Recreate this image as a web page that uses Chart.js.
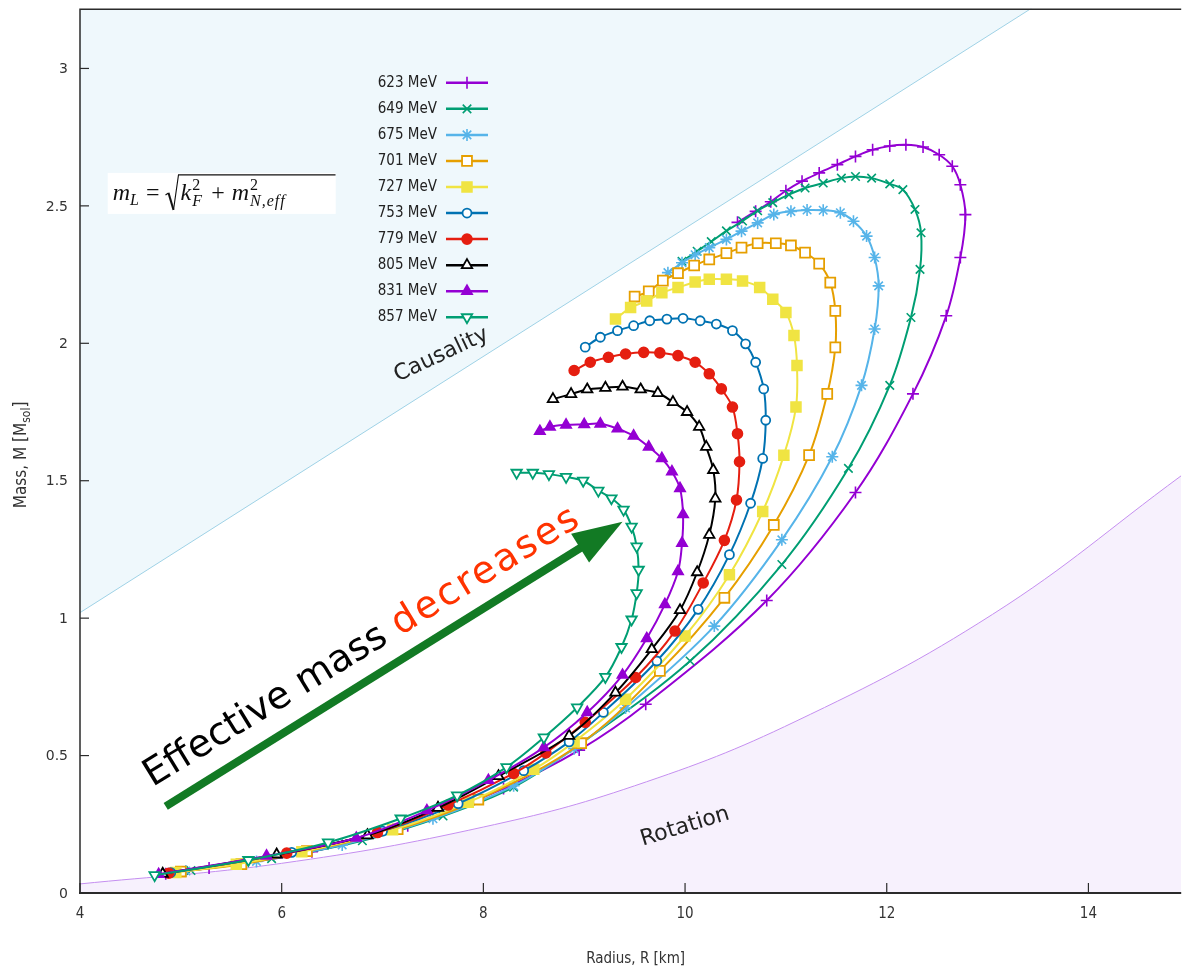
<!DOCTYPE html>
<html>
<head>
<meta charset="utf-8">
<script src="https://cdn.jsdelivr.net/npm/chart.js@4/dist/chart.umd.min.js"></script>
<style>
  html, body { margin: 0; padding: 0; background: #fff; overflow: hidden; }
  canvas { display: block; }
</style>
</head>
<body>
<canvas id="myChart" width="1190" height="970"></canvas>
<script>
const curveLabels = ['623 MeV', '649 MeV', '675 MeV', '701 MeV', '727 MeV',
                     '753 MeV', '779 MeV', '805 MeV', '831 MeV', '857 MeV'];

// radius [km] / mass [Msol], low mass -> high central density
const r623 = [4.85, 5.28, 6.3, 7.25, 8.2, 8.95, 9.61, 10.81, 11.69, 12.26, 12.59, 12.73, 12.78, 12.73, 12.65, 12.52, 12.36, 12.19, 12.03, 11.86, 11.69, 11.51, 11.33, 11.16, 11.0, 10.85, 10.7, 10.52];
const m623 = [0.07, 0.091, 0.15, 0.245, 0.38, 0.52, 0.687, 1.064, 1.457, 1.816, 2.10, 2.312, 2.468, 2.577, 2.644, 2.686, 2.714, 2.722, 2.718, 2.704, 2.68, 2.65, 2.62, 2.59, 2.555, 2.515, 2.48, 2.44];

const r649 = [5.1, 5.9, 6.8, 7.6, 8.3, 8.93, 10.05, 10.96, 11.62, 12.03, 12.24, 12.33, 12.34, 12.28, 12.16, 12.03, 11.85, 11.69, 11.55, 11.37, 11.19, 11.03, 10.87, 10.72, 10.57, 10.41, 10.26, 10.12, 9.97];
const m649 = [0.082, 0.125, 0.19, 0.28, 0.385, 0.535, 0.844, 1.195, 1.545, 1.847, 2.094, 2.269, 2.402, 2.487, 2.559, 2.58, 2.601, 2.607, 2.601, 2.583, 2.565, 2.541, 2.512, 2.482, 2.445, 2.409, 2.37, 2.335, 2.298];

const r675 = [5.05, 5.75, 6.6, 7.5, 8.3, 8.9, 9.41, 10.29, 10.96, 11.46, 11.75, 11.88, 11.92, 11.88, 11.80, 11.67, 11.54, 11.37, 11.21, 11.05, 10.88, 10.72, 10.56, 10.41, 10.24, 10.10, 9.97, 9.83];
const m675 = [0.08, 0.115, 0.175, 0.27, 0.39, 0.525, 0.673, 0.971, 1.285, 1.587, 1.847, 2.052, 2.209, 2.312, 2.390, 2.444, 2.475, 2.484, 2.485, 2.480, 2.469, 2.438, 2.408, 2.378, 2.348, 2.322, 2.293, 2.257];

const r701 = [5.0, 5.6, 6.25, 7.15, 7.95, 8.97, 9.75, 10.39, 10.88, 11.23, 11.41, 11.49, 11.49, 11.44, 11.33, 11.19, 11.05, 10.90, 10.72, 10.56, 10.41, 10.24, 10.09, 9.93, 9.78, 9.64, 9.50];
const m701 = [0.078, 0.105, 0.152, 0.232, 0.34, 0.545, 0.808, 1.074, 1.339, 1.593, 1.816, 1.985, 2.118, 2.221, 2.29, 2.33, 2.356, 2.364, 2.364, 2.348, 2.328, 2.305, 2.283, 2.255, 2.228, 2.189, 2.170];

const r727 = [4.95, 5.55, 6.2, 7.1, 7.85, 8.5, 8.9, 9.41, 10.0, 10.44, 10.77, 10.98, 11.10, 11.11, 11.08, 11.00, 10.87, 10.74, 10.57, 10.41, 10.24, 10.10, 9.93, 9.77, 9.62, 9.46, 9.31];
const m727 = [0.075, 0.105, 0.15, 0.23, 0.33, 0.45, 0.55, 0.705, 0.935, 1.158, 1.388, 1.593, 1.768, 1.919, 2.028, 2.112, 2.160, 2.203, 2.227, 2.233, 2.233, 2.223, 2.203, 2.184, 2.154, 2.130, 2.088];

const r753 = [4.9, 6.1, 7.0, 7.75, 8.4, 8.85, 9.19, 9.72, 10.13, 10.44, 10.65, 10.77, 10.80, 10.78, 10.70, 10.60, 10.47, 10.31, 10.15, 9.98, 9.82, 9.65, 9.49, 9.33, 9.16, 9.01];
const m753 = [0.074, 0.148, 0.225, 0.325, 0.445, 0.55, 0.657, 0.844, 1.032, 1.231, 1.418, 1.581, 1.720, 1.834, 1.931, 1.998, 2.046, 2.070, 2.082, 2.091, 2.088, 2.082, 2.064, 2.046, 2.022, 1.986];

const r779 = [4.88, 6.05, 6.95, 7.65, 8.3, 8.62, 9.01, 9.51, 9.90, 10.18, 10.39, 10.51, 10.54, 10.52, 10.47, 10.36, 10.24, 10.10, 9.93, 9.75, 9.59, 9.41, 9.24, 9.06, 8.90];
const m779 = [0.072, 0.145, 0.22, 0.32, 0.435, 0.51, 0.621, 0.784, 0.953, 1.128, 1.283, 1.430, 1.569, 1.671, 1.768, 1.834, 1.889, 1.931, 1.955, 1.965, 1.967, 1.961, 1.949, 1.931, 1.901];

const r805 = [4.82, 5.95, 6.85, 7.55, 8.15, 8.85, 9.31, 9.67, 9.95, 10.12, 10.24, 10.30, 10.28, 10.21, 10.14, 10.02, 9.88, 9.73, 9.56, 9.38, 9.21, 9.03, 8.87, 8.69];
const m805 = [0.07, 0.14, 0.21, 0.31, 0.425, 0.572, 0.729, 0.887, 1.029, 1.167, 1.303, 1.435, 1.539, 1.623, 1.696, 1.750, 1.786, 1.819, 1.832, 1.842, 1.838, 1.832, 1.815, 1.797];

const r831 = [4.78, 5.85, 6.74, 7.44, 8.05, 8.6, 9.03, 9.38, 9.62, 9.80, 9.93, 9.97, 9.98, 9.95, 9.87, 9.77, 9.64, 9.49, 9.33, 9.16, 9.00, 8.82, 8.66, 8.56];
const m831 = [0.068, 0.135, 0.2, 0.30, 0.41, 0.53, 0.657, 0.793, 0.926, 1.050, 1.170, 1.273, 1.377, 1.472, 1.533, 1.581, 1.623, 1.663, 1.689, 1.707, 1.705, 1.703, 1.696, 1.680];

const r857 = [4.74, 5.67, 6.46, 7.18, 7.74, 8.23, 8.60, 8.93, 9.21, 9.37, 9.47, 9.52, 9.54, 9.52, 9.47, 9.39, 9.27, 9.14, 8.99, 8.82, 8.65, 8.49, 8.33];
const m857 = [0.065, 0.12, 0.184, 0.271, 0.355, 0.458, 0.566, 0.675, 0.786, 0.895, 0.995, 1.091, 1.176, 1.261, 1.333, 1.395, 1.436, 1.464, 1.500, 1.514, 1.524, 1.529, 1.529];

// limits
const causalityR = [4.0, 13.44];
const causalityM = [1.02, 3.22];
const rotationR = [4.0, 6.0, 8.0, 9.5, 11.1, 13.05, 14.92];
const rotationM = [0.033, 0.108, 0.24, 0.39, 0.625, 1.014, 1.518];

const radiusTicks = [4, 6, 8, 10, 12, 14];
const massTicks = [0, 0.5, 1, 1.5, 2, 2.5, 3];
const massTickLabels = ['0', '0.5', '1', '1.5', '2', '2.5', '3'];

const curves = [[r623, m623], [r649, m649], [r675, m675], [r701, m701], [r727, m727],
                [r753, m753], [r779, m779], [r805, m805], [r831, m831], [r857, m857]];

const curveColors = ['#9400d3', '#009e73', '#56b4e9', '#e69f00', '#f0e442',
                     '#0072b2', '#e51e10', '#000000', '#9400d3', '#009e73'];

// gnuplot point types 1..10
const marks = [
  { style: 'cross', radius: 6 },
  { style: 'crossRot', radius: 6 },
  { style: 'star', radius: 6 },
  { style: 'rect', radius: 7, open: true },
  { style: 'rect', radius: 7 },
  { style: 'circle', radius: 4.5, open: true },
  { style: 'circle', radius: 5 },
  { style: 'triangle', radius: 6, open: true },
  { style: 'triangle', radius: 6 },
  { style: 'triangle', radius: 6, open: true, rot: 180 },
];

const toPoints = (rs, ms) => rs.map((r, i) => ({ x: r, y: ms[i] }));

const curveSets = curves.map(([rs, ms], i) => ({
  label: curveLabels[i],
  data: toPoints(rs, ms),
  borderColor: curveColors[i],
  borderWidth: 2,
  tension: 0.35,
  fill: false,
  pointStyle: marks[i].style,
  pointRadius: marks[i].radius,
  pointRotation: marks[i].rot || 0,
  pointBorderColor: curveColors[i],
  pointBackgroundColor: marks[i].open ? '#ffffff' : curveColors[i],
  pointBorderWidth: marks[i].open ? 1.8 : 1.6,
  order: 10 - i,
}));

const sans = '"DejaVu Sans", "Liberation Sans", sans-serif';
const narrow = '"DejaVu Sans Condensed", "Liberation Sans Narrow", "DejaVu Sans", sans-serif';
const serif = '"Liberation Serif", "DejaVu Serif", serif';

function rotatedText(c, parts, x, y, deg, font) {
  c.save();
  c.translate(x, y);
  c.rotate(-deg * Math.PI / 180);
  c.font = font;
  c.textAlign = 'left';
  c.textBaseline = 'alphabetic';
  let cx = 0;
  for (const [t, col, spacing] of parts) {
    c.fillStyle = col;
    c.letterSpacing = spacing || '0px';
    c.fillText(t, cx, 0);
    cx += c.measureText(t).width;
  }
  c.letterSpacing = '0px';
  c.restore();
}

function drawArrow(c, x1, y1, x2, y2, color) {
  const ang = Math.atan2(y2 - y1, x2 - x1);
  const headLen = 50, half = 17;
  const bx = x2 - headLen * Math.cos(ang), by = y2 - headLen * Math.sin(ang);
  c.strokeStyle = color;
  c.fillStyle = color;
  c.lineWidth = 8;
  c.beginPath();
  c.moveTo(x1, y1);
  c.lineTo(bx + 4 * Math.cos(ang), by + 4 * Math.sin(ang));
  c.stroke();
  c.beginPath();
  c.moveTo(x2, y2);
  c.lineTo(bx - half * Math.sin(ang), by + half * Math.cos(ang));
  c.lineTo(bx + half * Math.sin(ang), by - half * Math.cos(ang));
  c.closePath();
  c.fill();
}

function drawFormula(c, bx, by, bw, bh) {
  c.save();
  c.fillStyle = '#ffffff';
  c.fillRect(bx, by, bw, bh);
  c.beginPath();
  c.rect(bx, by, bw, bh);
  c.clip();
  c.fillStyle = '#111';
  c.strokeStyle = '#111';
  c.textAlign = 'left';
  c.textBaseline = 'alphabetic';
  const base = by + 27;
  const it = s => `italic ${s}px ${serif}`;
  const rm = s => `${s}px ${serif}`;
  let x = bx + 5;
  const put = (t, f, dy) => { c.font = f; c.fillText(t, x, base + (dy || 0)); x += c.measureText(t).width; };
  put('m', it(24));
  put('L', it(16), 5);
  x += 7;
  put('=', rm(24));
  x += 6;
  // radical sign
  const rx = x;
  c.lineWidth = 1.2;
  c.beginPath();
  c.moveTo(rx, base - 5);
  c.lineTo(rx + 3, base - 7);
  c.stroke();
  c.lineWidth = 2;
  c.beginPath();
  c.moveTo(rx + 3, base - 7);
  c.lineTo(rx + 8, base + 10);
  c.stroke();
  c.lineWidth = 1.1;
  c.beginPath();
  c.moveTo(rx + 8, base + 10);
  c.lineTo(rx + 13, base - 25);
  c.lineTo(bx + bw, base - 25);
  c.stroke();
  x = rx + 15;
  put('k', it(24));
  const kx = x;
  c.font = rm(16); c.fillText('2', kx + 1, base - 10);
  c.font = it(16); c.fillText('F', kx + 1, base + 6);
  x = kx + 13;
  x += 7;
  put('+', rm(24));
  x += 7;
  put('m', it(24));
  const mx = x;
  c.font = rm(16); c.fillText('2', mx + 1, base - 10);
  c.font = it(16); c.letterSpacing = '1px'; c.fillText('N,eff', mx + 1, base + 6);
  c.letterSpacing = '0px';
  c.restore();
}

const decorations = {
  id: 'decorations',
  afterDatasetsDraw(chart) {
    const c = chart.ctx;
    const a = chart.chartArea;
    const xs = chart.scales.x, ys = chart.scales.y;
    const px = v => xs.getPixelForValue(v);
    const py = v => ys.getPixelForValue(v);
    c.save();

    // frame
    c.strokeStyle = '#2b2b2b';
    c.lineWidth = 1.5;
    c.beginPath();
    c.moveTo(a.right, a.top + 0.5);
    c.lineTo(a.left, a.top + 0.5);
    c.lineTo(a.left, a.bottom);
    c.stroke();
    c.lineWidth = 2;
    c.beginPath();
    c.moveTo(a.left - 1, a.bottom);
    c.lineTo(a.right, a.bottom);
    c.stroke();

    // inward ticks and labels
    c.lineWidth = 1.2;
    c.fillStyle = '#333';
    c.font = `14px ${sans}`;
    c.textAlign = 'right';
    c.textBaseline = 'middle';
    massTicks.forEach((v, i) => {
      const yy = py(v);
      c.beginPath(); c.moveTo(a.left, yy); c.lineTo(a.left + 9, yy); c.stroke();
      c.fillText(massTickLabels[i], a.left - 12, yy + 1);
    });
    c.font = `15px ${narrow}`;
    c.textAlign = 'center';
    c.textBaseline = 'middle';
    radiusTicks.forEach(v => {
      const xx = px(v);
      c.beginPath(); c.moveTo(xx, a.bottom); c.lineTo(xx, a.bottom - 10); c.stroke();
      c.fillText(String(v), xx, a.bottom + 21);
    });

    // axis titles
    c.fillStyle = '#333';
    c.font = `15px ${narrow}`;
    c.textAlign = 'center';
    c.textBaseline = 'alphabetic';
    c.fillText('Radius, R [km]', (a.left + a.right) / 2 + 5, a.bottom + 70);

    c.save();
    c.translate(26, (a.top + a.bottom) / 2 + 4);
    c.rotate(-Math.PI / 2);
    const big = `17px ${narrow}`, small = `12px ${narrow}`;
    c.font = big; const w1 = c.measureText('Mass, M [M').width; const w3 = c.measureText(']').width;
    c.font = small; const w2 = c.measureText('sol').width;
    let tx = -(w1 + w2 + w3) / 2;
    c.textAlign = 'left';
    c.font = big; c.fillText('Mass, M [M', tx, 0); tx += w1;
    c.font = small; c.fillText('sol', tx, 4); tx += w2;
    c.font = big; c.fillText(']', tx, 0);
    c.restore();

    // legend
    c.font = `15px ${narrow}`;
    c.textAlign = 'right';
    c.textBaseline = 'middle';
    curveLabels.forEach((lab, i) => {
      const yy = a.top + 74 + i * 26.05;
      c.fillStyle = '#222';
      c.fillText(lab, a.left + 357, yy);
      c.strokeStyle = curveColors[i];
      c.lineWidth = 2.5;
      c.beginPath(); c.moveTo(a.left + 366, yy); c.lineTo(a.left + 408, yy); c.stroke();
      c.fillStyle = marks[i].open ? '#ffffff' : curveColors[i];
      c.lineWidth = marks[i].open ? 1.8 : 1.6;
      Chart.helpers.drawPoint(c, {
        pointStyle: marks[i].style, radius: marks[i].radius,
        rotation: marks[i].rot || 0, borderWidth: c.lineWidth
      }, a.left + 387, yy);
    });

    // formula box
    drawFormula(c, px(4.275), py(2.62), 228, 41);

    // region labels
    rotatedText(c, [['Causality', '#222']], px(7.15), py(1.86), 25, `22px ${sans}`);
    rotatedText(c, [['Rotation', '#222']], px(9.58), py(0.172), 17, `22px ${sans}`);

    // arrow + caption
    drawArrow(c, px(4.85), py(0.315), px(9.38), py(1.351), '#127a24');
    const ang = Math.atan2(py(0.315) - py(1.351), px(9.38) - px(4.85)) * 180 / Math.PI;
    rotatedText(c, [['Effective mass ', '#000'], ['decreases', '#ff3300', '2.5px']],
      px(4.72), py(0.385), ang - 0.5, `38px ${sans}`);

    c.restore();
  }
};

const ctx = document.getElementById('myChart').getContext('2d');

const data = {
  datasets: [
    ...curveSets,
    {
      label: 'Causality',
      data: toPoints(causalityR, causalityM),
      borderColor: '#9fd2e6',
      borderWidth: 1,
      backgroundColor: 'rgb(239,248,252)',
      fill: 'end',
      pointRadius: 0,
      tension: 0,
      order: 30,
    },
    {
      label: 'Rotation',
      data: toPoints(rotationR, rotationM),
      borderColor: '#c58ff0',
      borderWidth: 1,
      backgroundColor: 'rgb(247,241,253)',
      fill: 'start',
      pointRadius: 0,
      tension: 0.4,
      order: 31,
    },
  ],
};

const config = {
  type: 'line',
  data: data,
  options: {
    responsive: false,
    animation: false,
    events: [],
    layout: { padding: { left: 80, top: 5, right: 0, bottom: 77 } },
    plugins: {
      legend: { display: false },
      tooltip: { enabled: false },
    },
    scales: {
      x: { type: 'linear', min: 4, max: 14.92, display: false },
      y: { type: 'linear', min: 0, max: 3.217, display: false },
    },
  },
  plugins: [decorations],
};

const myChart = new Chart(ctx, config);
</script>
</body>
</html>
